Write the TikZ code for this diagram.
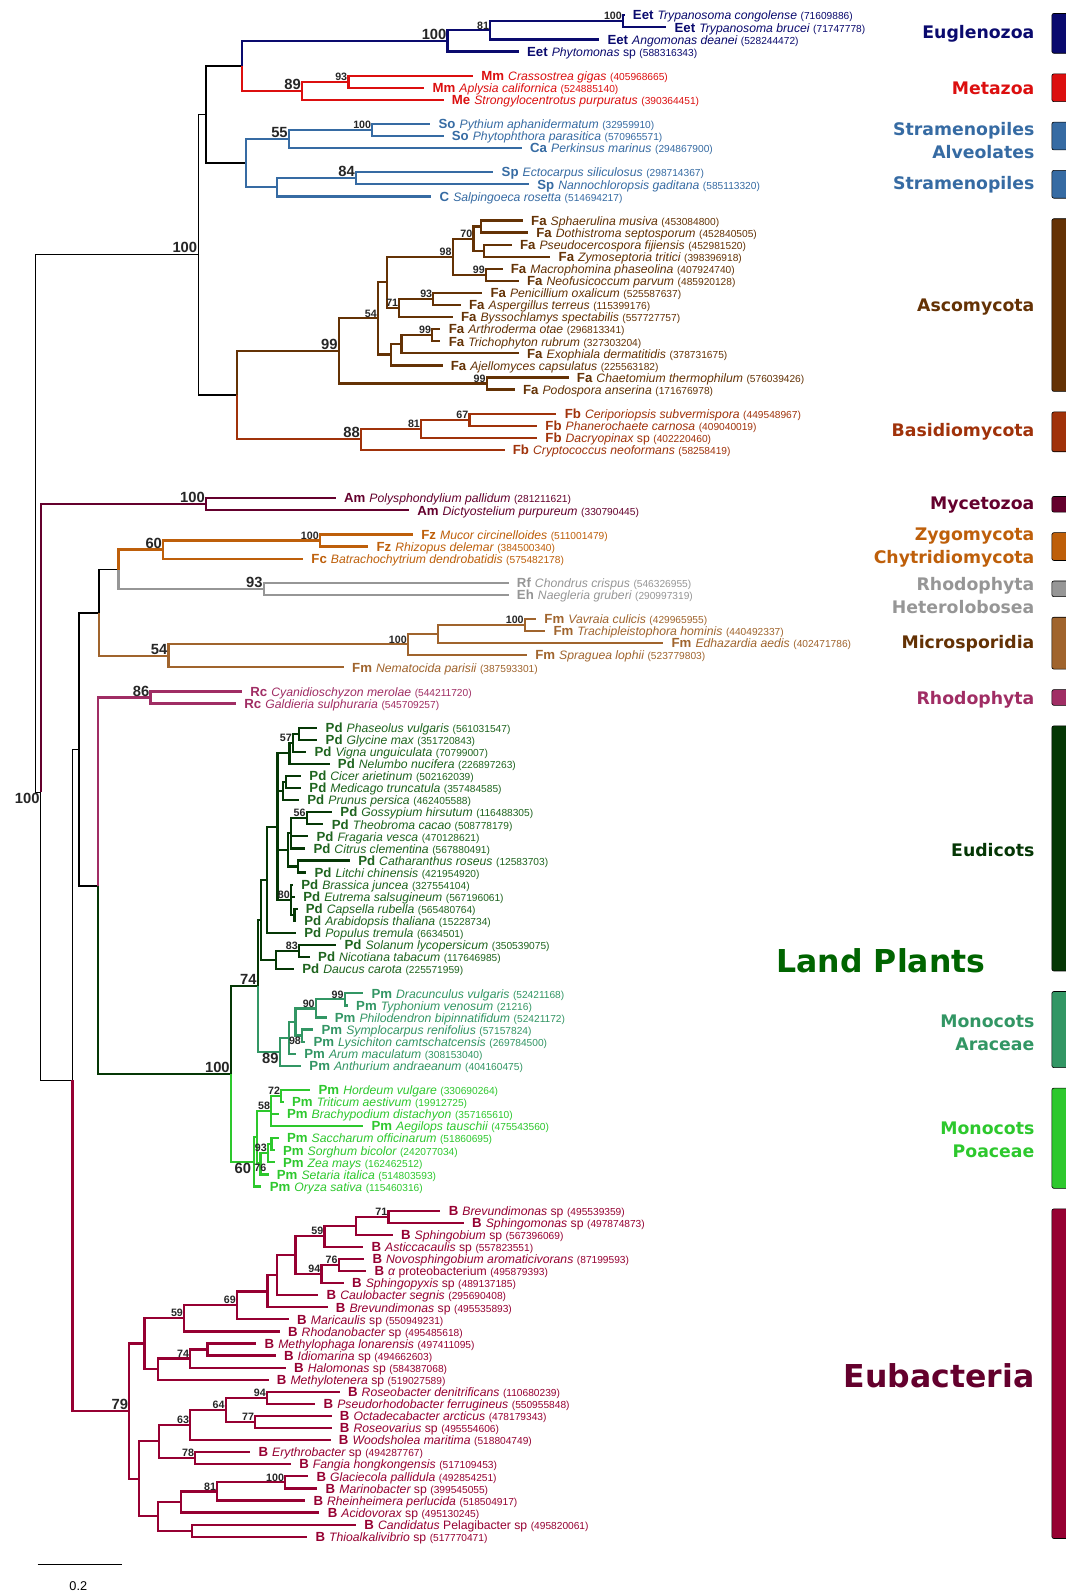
\documentclass[tikz,border=0pt]{standalone}
\usepackage{fontspec}
\setmainfont{Liberation Sans}
\newfontfamily\cladefont{DejaVu Sans}
\usetikzlibrary{positioning}

\definecolor{eug}{RGB}{10,10,110}
\definecolor{met}{RGB}{220,15,15}
\definecolor{stra}{RGB}{54,107,163}
\definecolor{asco}{RGB}{100,50,5}
\definecolor{basi}{RGB}{160,50,10}
\definecolor{myce}{RGB}{100,0,45}
\definecolor{zygo}{RGB}{190,95,10}
\definecolor{rhhe}{RGB}{150,150,150}
\definecolor{micr}{RGB}{160,100,45}
\definecolor{rhod}{RGB}{160,45,100}
\definecolor{eudi}{RGB}{5,55,5}
\definecolor{land}{RGB}{0,100,0}
\definecolor{arac}{RGB}{50,150,100}
\definecolor{poac}{RGB}{45,200,45}
\definecolor{euba}{RGB}{150,0,50}
\colorlet{eugT}{eug}
\colorlet{metT}{met}
\colorlet{straT}{stra}
\colorlet{ascoT}{asco}
\colorlet{basiT}{basi}
\colorlet{myceT}{myce}
\colorlet{zygoT}{zygo}
\colorlet{rhheT}{rhhe}
\colorlet{micrT}{micr}
\colorlet{rhodT}{rhod}
\definecolor{eudiT}{RGB}{30,100,30}
\colorlet{aracT}{arac}
\colorlet{poacT}{poac}
\colorlet{eubaT}{euba}

\newcommand{\codefont}{\bfseries\fontsize{13}{13}\selectfont}
\newcommand{\idfont}{\fontsize{10}{10}\selectfont}

\tikzset{
	br/.style={line width=2.2pt},
	bb/.style={line width=1.4pt, black},
	lab/.style={inner sep=0pt, text height=9.3pt, text depth=0pt, font=\fontsize{12}{12}\selectfont},
	bs/.style={anchor=south east, inner sep=1pt, text=black!85, font=\bfseries\fontsize{10.5}{11}\selectfont},
	bsb/.style={bs, anchor=north east},
	bl/.style={bs, font=\bfseries\fontsize{14.5}{15}\selectfont},
	blb/.style={bl, anchor=north east},
	clade/.style={anchor=east, align=right, inner sep=0pt, font=\cladefont\bfseries\fontsize{17}{22.5}\selectfont},
	bigclade/.style={inner sep=0pt, font=\cladefont\bfseries\fontsize{31}{34}\selectfont},
	bar/.style={draw=black, line width=0.6pt, rounded corners=2pt}
}

% tip, branch from parent, label
\newcommand{\leaf}[8]{%
	\coordinate (#1) at (#3,#4);
	\draw[br,#5] (#2) |- (#1);
	\node[lab, text=#5T, right=8pt of #1] (#1l) {{\codefont #6}\hspace{4pt}{\itshape #7}\hspace{3.5pt}{\idfont(#8)}};
}

\begin{document}
\begin{tikzpicture}[x=1pt, y=-11.87pt]
	\fill[white] (0,-1.264) rectangle (1047,130.83);
	\useasboundingbox (0,-1.264) rectangle (1047,130.83);

	% internal nodes
	\foreach \n/\x/\y in {R0/35/42.1, T/195/19.8, A1/202.5/8.2, NEM/238/4.2, NEug/440/2.1, N81e/482/1.25, N100e/612.5/0.5,
		N89m/297/6.25, N93m/342.5/5.5, NStr/241.5/12.25, N55/284/10.25, N100s/366/9.5, Ns1/272/14.25, N84/350/13.5,
		Dik/232.7/31.45, N99A/333/27.8, N54a/371.6/25.1, Na1/380.5/22.1, N98a/445/20, N70/465.5/18.5, NSD/473/17.5,
		NPZ/476/19.5, N99a/477.7/21.5, N71a/392.6/24.25, N93a/426/23.5, Na3/384.5/28.1, Na2/394.7/27.25, N99b/425/26.5,
		N99c/478.5/30.5, N88/355/35.1, N81b/414/34.25, N67/461.5/33.5}
		\coordinate (\n) at (\x,\y);
	\foreach \n/\x/\y in {R1/40/64.35, NMyc/202.5/40.5, H/71.3/88.2, G/77.5/60.8, F/97.5/49.5, ZR/116.5/45.9,
		N60z/160.4/44.25, N100z/314.5/43.5, N93r/259.4/47.5, N54m/165.7/53.05, N100m/401/52.1, NVTE/430.6/51.25,
		N100v/516/50.5, J/96/72.1, N86/148/56.5}
		\coordinate (\n) at (\x,\y);
	\foreach \n/\x/\y in {LP/227/87.7, N74/253.4/80.4, EU/256.5/74.9, EU1/262.7/71.6, EU2/272.8/67.2, FAB/284.6/61.1,
		N57/288/60.25, PG/294/59.5, CMP/278/64.25, CM/281/63.5, M1/283/69.1, P3/286/67.75, N56/301.5/66.5, CL/293/70.5,
		BR80/286/73.25, CA/289.5/74.5, SDC/271/78.25, S83/294/77.5,
		N89a/275/85.85, NA2/284/84.7, NA1/290.4/83.4, N90/310.5/82.25, N99p/339/81.5, N98/297/84.5,
		PR/249.4/95, X/252.7/92.9, N58/266.6/90.75, N72/276.5/89.5, N76/256/95.1, N93p/263.4/94.25, SS/267/93.5}
		\coordinate (\n) at (\x,\y);
	\foreach \n/\x/\y in {E79/127/115.6, Nb7/142/110, N59a/181/107.9, N69/233/106.8, Nb4/263/105.7, Nb3/272.5/104.3,
		Nb2/290.4/102.7, N59b/319/101.1, Nb1/350/100.25, N71/382/99.5, N94/316/104.25, N76b/333/103.5, Nb6/155.4/112.1,
		N74b/187/111.25, Nb5/204/110.5, Nb14/137/121.2, Nb10/156.5/118.1, N63/187/116.75, N64/222/115.5,
		N94b/262.5/114.5, N77/251/116.5, N78/192/119.5, Nb13/155.4/124.3, Nb11/178/123.1, N81c/213.6/122.25,
		N100b/280.4/121.5, Nb12/188.6/125.5}
		\coordinate (\n) at (\x,\y);

	% internal branches
	\foreach \p/\c in {R0/T, R0/R1, T/A1, T/Dik, A1/NEM, A1/NStr, R1/H, H/G, G/F, G/J, F/ZR}
		\draw[bb] (\p) |- (\c);
	\foreach \p/\c in {NEM/NEug, NEug/N81e, N81e/N100e} \draw[br,eug] (\p) |- (\c);
	\foreach \p/\c in {NEM/N89m, N89m/N93m} \draw[br,met] (\p) |- (\c);
	\foreach \p/\c in {NStr/N55, NStr/Ns1, N55/N100s, Ns1/N84} \draw[br,stra] (\p) |- (\c);
	\foreach \p/\c in {Dik/N99A, N99A/N54a, N99A/N99c, N54a/Na1, N54a/Na3, Na1/N98a, Na1/N71a, N98a/N70,
		N98a/N99a, N70/NSD, N70/NPZ, N71a/N93a, Na3/Na2, Na2/N99b} \draw[br,asco] (\p) |- (\c);
	\foreach \p/\c in {Dik/N88, N88/N81b, N81b/N67} \draw[br,basi] (\p) |- (\c);
	\draw[br,myce] (R1) |- (NMyc);
	\foreach \p/\c in {ZR/N60z, N60z/N100z} \draw[br,zygo] (\p) |- (\c);
	\draw[br,rhhe] (ZR) |- (N93r);
	\foreach \p/\c in {F/N54m, N54m/N100m, N100m/NVTE, NVTE/N100v} \draw[br,micr] (\p) |- (\c);
	\draw[br,rhod] (J) |- (N86);
	\foreach \p/\c in {J/LP, LP/N74, N74/EU, EU/EU1, EU/SDC, EU1/EU2, EU2/FAB, EU2/CMP, EU2/M1, EU2/BR80,
		FAB/N57, N57/PG, CMP/CM, M1/P3, M1/CL, P3/N56, BR80/CA, SDC/S83} \draw[br,eudi] (\p) |- (\c);
	\foreach \p/\c in {N74/N89a, N89a/NA2, NA2/NA1, NA1/N90, NA1/N98, N90/N99p} \draw[br,arac] (\p) |- (\c);
	\foreach \p/\c in {LP/PR, PR/X, X/N58, X/N76, N58/N72, N76/N93p, N93p/SS} \draw[br,poac] (\p) |- (\c);
	\foreach \p/\c in {H/E79, E79/Nb7, E79/Nb14, Nb7/N59a, Nb7/Nb6, N59a/N69, N69/Nb4, Nb4/Nb3, Nb3/Nb2,
		Nb2/N59b, Nb2/N94, N59b/Nb1, Nb1/N71, N94/N76b, Nb6/N74b, N74b/Nb5, Nb14/Nb10, Nb14/Nb13, Nb10/N63,
		Nb10/N78, N63/N64, N64/N94b, N64/N77, Nb13/Nb11, Nb13/Nb12, Nb11/N81c, N81c/N100b} \draw[br,euba] (\p) |- (\c);

	% leaves
	\leaf{tcon}{N100e}{614}{0}{eug}{Eet}{Trypanosoma congolense}{71609886}
	\leaf{tbru}{N100e}{655}{1}{eug}{Eet}{Trypanosoma brucei}{71747778}
	\leaf{adea}{N81e}{589}{2}{eug}{Eet}{Angomonas deanei}{528244472}
	\leaf{phyt}{NEug}{510}{3}{eug}{Eet}{Phytomonas \upshape sp}{588316343}
	\leaf{cgig}{N93m}{465}{5}{met}{Mm}{Crassostrea gigas}{405968665}
	\leaf{acal}{N93m}{417}{6}{met}{Mm}{Aplysia californica}{524885140}
	\leaf{spur}{N89m}{436}{7}{met}{Me}{Strongylocentrotus purpuratus}{390364451}
	\leaf{paph}{N100s}{423}{9}{stra}{So}{Pythium aphanidermatum}{32959910}
	\leaf{ppar}{N100s}{436}{10}{stra}{So}{Phytophthora parasitica}{570965571}
	\leaf{pmar}{N55}{513}{11}{stra}{Ca}{Perkinsus marinus}{294867900}
	\leaf{esil}{N84}{485}{13}{stra}{Sp}{Ectocarpus siliculosus}{298714367}
	\leaf{ngad}{N84}{520}{14}{stra}{Sp}{Nannochloropsis gaditana}{585113320}
	\leaf{sros}{Ns1}{424}{15}{stra}{C}{Salpingoeca rosetta}{514694217}
	\leaf{smus}{NSD}{514}{17}{asco}{Fa}{Sphaerulina musiva}{453084800}
	\leaf{dsep}{NSD}{519}{18}{asco}{Fa}{Dothistroma septosporum}{452840505}
	\leaf{pfij}{NPZ}{503}{19}{asco}{Fa}{Pseudocercospora fijiensis}{452981520}
	\leaf{ztri}{NPZ}{541}{20}{asco}{Fa}{Zymoseptoria tritici}{398396918}
	\leaf{mpha}{N99a}{494}{21}{asco}{Fa}{Macrophomina phaseolina}{407924740}
	\leaf{npar}{N99a}{510}{22}{asco}{Fa}{Neofusicoccum parvum}{485920128}
	\leaf{poxa}{N93a}{474}{23}{asco}{Fa}{Penicillium oxalicum}{525587637}
	\leaf{ater}{N93a}{453}{24}{asco}{Fa}{Aspergillus terreus}{115399176}
	\leaf{bspe}{N71a}{445}{25}{asco}{Fa}{Byssochlamys spectabilis}{557727757}
	\leaf{aota}{N99b}{433}{26}{asco}{Fa}{Arthroderma otae}{296813341}
	\leaf{trub}{N99b}{433}{27}{asco}{Fa}{Trichophyton rubrum}{327303204}
	\leaf{ederm}{Na2}{510}{28}{asco}{Fa}{Exophiala dermatitidis}{378731675}
	\leaf{acap}{Na3}{435}{29}{asco}{Fa}{Ajellomyces capsulatus}{225563182}
	\leaf{cthe}{N99c}{559}{30}{asco}{Fa}{Chaetomium thermophilum}{576039426}
	\leaf{pans}{N99c}{506}{31}{asco}{Fa}{Podospora anserina}{171676978}
	\leaf{csub}{N67}{547}{33}{basi}{Fb}{Ceriporiopsis subvermispora}{449548967}
	\leaf{pcar}{N67}{528}{34}{basi}{Fb}{Phanerochaete carnosa}{409040019}
	\leaf{dacr}{N81b}{528}{35}{basi}{Fb}{Dacryopinax \upshape sp}{402220460}
	\leaf{cneo}{N88}{496}{36}{basi}{Fb}{Cryptococcus neoformans}{58258419}
	\leaf{ppal}{NMyc}{330}{40}{myce}{Am}{Polysphondylium pallidum}{281211621}
	\leaf{dpur}{NMyc}{402}{41}{myce}{Am}{Dictyostelium purpureum}{330790445}
	\leaf{mcir}{N100z}{406}{43}{zygo}{Fz}{Mucor circinelloides}{511001479}
	\leaf{rdel}{N100z}{362}{44}{zygo}{Fz}{Rhizopus delemar}{384500340}
	\leaf{bden}{N60z}{298}{45}{zygo}{Fc}{Batrachochytrium dendrobatidis}{575482178}
	\leaf{ccri}{N93r}{500}{47}{rhhe}{Rf}{Chondrus crispus}{546326955}
	\leaf{ngru}{N93r}{500}{48}{rhhe}{Eh}{Naegleria gruberi}{290997319}
	\leaf{vcul}{N100v}{527}{50}{micr}{Fm}{Vavraia culicis}{429965955}
	\leaf{thom}{N100v}{536}{51}{micr}{Fm}{Trachipleistophora hominis}{440492337}
	\leaf{eaed}{NVTE}{652}{52}{micr}{Fm}{Edhazardia aedis}{402471786}
	\leaf{slop}{N100m}{518}{53}{micr}{Fm}{Spraguea lophii}{523779803}
	\leaf{npari}{N54m}{338}{54}{micr}{Fm}{Nematocida parisii}{387593301}
	\leaf{cmer}{N86}{238}{56}{rhod}{Rc}{Cyanidioschyzon merolae}{544211720}
	\leaf{gsul}{N86}{232}{57}{rhod}{Rc}{Galdieria sulphuraria}{545709257}
	\leaf{pvul}{PG}{312}{59}{eudi}{Pd}{Phaseolus vulgaris}{561031547}
	\leaf{gmax}{PG}{312}{60}{eudi}{Pd}{Glycine max}{351720843}
	\leaf{vung}{N57}{301}{61}{eudi}{Pd}{Vigna unguiculata}{70799007}
	\leaf{nnuc}{FAB}{324}{62}{eudi}{Pd}{Nelumbo nucifera}{226897263}
	\leaf{cari}{CM}{296}{63}{eudi}{Pd}{Cicer arietinum}{502162039}
	\leaf{mtru}{CM}{296}{64}{eudi}{Pd}{Medicago truncatula}{357484585}
	\leaf{pper}{CMP}{294}{65}{eudi}{Pd}{Prunus persica}{462405588}
	\leaf{ghir}{N56}{326.5}{66}{eudi}{Pd}{Gossypium hirsutum}{116488305}
	\leaf{tcac}{N56}{318}{67}{eudi}{Pd}{Theobroma cacao}{508778179}
	\leaf{fves}{P3}{303}{68}{eudi}{Pd}{Fragaria vesca}{470128621}
	\leaf{ccle}{P3}{300}{69}{eudi}{Pd}{Citrus clementina}{567880491}
	\leaf{cros}{CL}{344}{70}{eudi}{Pd}{Catharanthus roseus}{12583703}
	\leaf{lchi}{CL}{301}{71}{eudi}{Pd}{Litchi chinensis}{421954920}
	\leaf{bjun}{BR80}{288}{72}{eudi}{Pd}{Brassica juncea}{327554104}
	\leaf{esal}{BR80}{290}{73}{eudi}{Pd}{Eutrema salsugineum}{567196061}
	\leaf{crub}{CA}{292.5}{74}{eudi}{Pd}{Capsella rubella}{565480764}
	\leaf{atha}{CA}{291}{75}{eudi}{Pd}{Arabidopsis thaliana}{15228734}
	\leaf{ptre}{EU1}{291}{76}{eudi}{Pd}{Populus tremula}{6634501}
	\leaf{slyc}{S83}{330.5}{77}{eudi}{Pd}{Solanum lycopersicum}{350539075}
	\leaf{ntab}{S83}{304.6}{78}{eudi}{Pd}{Nicotiana tabacum}{117646985}
	\leaf{dcar}{SDC}{289}{79}{eudi}{Pd}{Daucus carota}{225571959}
	\leaf{dvul}{N99p}{357}{81}{arac}{Pm}{Dracunculus vulgaris}{52421168}
	\leaf{tven}{N99p}{342}{82}{arac}{Pm}{Typhonium venosum}{21216}
	\leaf{pbip}{N90}{321}{83}{arac}{Pm}{Philodendron bipinnatifidum}{52421172}
	\leaf{sren}{N98}{308}{84}{arac}{Pm}{Symplocarpus renifolius}{57157824}
	\leaf{lcam}{N98}{300}{85}{arac}{Pm}{Lysichiton camtschatcensis}{269784500}
	\leaf{amac}{NA2}{291}{86}{arac}{Pm}{Arum maculatum}{308153040}
	\leaf{aand}{N89a}{296}{87}{arac}{Pm}{Anthurium andraeanum}{404160475}
	\leaf{hvul}{N72}{305}{89}{poac}{Pm}{Hordeum vulgare}{330690264}
	\leaf{taes}{N72}{279}{90}{poac}{Pm}{Triticum aestivum}{19912725}
	\leaf{bdis}{N58}{274}{91}{poac}{Pm}{Brachypodium distachyon}{357165610}
	\leaf{atau}{N58}{357}{92}{poac}{Pm}{Aegilops tauschii}{475543560}
	\leaf{soff}{SS}{274}{93}{poac}{Pm}{Saccharum officinarum}{51860695}
	\leaf{sbic}{SS}{270}{94}{poac}{Pm}{Sorghum bicolor}{242077034}
	\leaf{zmay}{N93p}{270}{95}{poac}{Pm}{Zea mays}{162462512}
	\leaf{sita}{N76}{264}{96}{poac}{Pm}{Setaria italica}{514803593}
	\leaf{osat}{PR}{257}{97}{poac}{Pm}{Oryza sativa}{115460316}
	\leaf{bre1}{N71}{433}{99}{euba}{B}{Brevundimonas \upshape sp}{495539359}
	\leaf{sphm}{N71}{456}{100}{euba}{B}{Sphingomonas \upshape sp}{497874873}
	\leaf{sphb}{Nb1}{386}{101}{euba}{B}{Sphingobium \upshape sp}{567396069}
	\leaf{asti}{N59b}{357}{102}{euba}{B}{Asticcacaulis \upshape sp}{557823551}
	\leaf{naro}{N76b}{358}{103}{euba}{B}{Novosphingobium aromaticivorans}{87199593}
	\leaf{apro}{N76b}{360}{104}{euba}{B}{α \upshape proteobacterium}{495879393}
	\leaf{sphx}{N94}{338}{105}{euba}{B}{Sphingopyxis \upshape sp}{489137185}
	\leaf{cseg}{Nb3}{313}{106}{euba}{B}{Caulobacter segnis}{295690408}
	\leaf{bre2}{Nb4}{322}{107}{euba}{B}{Brevundimonas \upshape sp}{495535893}
	\leaf{mari}{N69}{284}{108}{euba}{B}{Maricaulis \upshape sp}{550949231}
	\leaf{rhdb}{N59a}{275}{109}{euba}{B}{Rhodanobacter \upshape sp}{495485618}
	\leaf{mlon}{Nb5}{252}{110}{euba}{B}{Methylophaga lonarensis}{497411095}
	\leaf{idio}{Nb5}{271}{111}{euba}{B}{Idiomarina \upshape sp}{494662603}
	\leaf{halo}{N74b}{281}{112}{euba}{B}{Halomonas \upshape sp}{584387068}
	\leaf{mten}{Nb6}{264}{113}{euba}{B}{Methylotenera \upshape sp}{519027589}
	\leaf{rden}{N94b}{334}{114}{euba}{B}{Roseobacter denitrificans}{110680239}
	\leaf{pfer}{N94b}{310}{115}{euba}{B}{Pseudorhodobacter ferrugineus}{550955848}
	\leaf{oarc}{N77}{326}{116}{euba}{B}{Octadecabacter arcticus}{478179343}
	\leaf{rvar}{N77}{326}{117}{euba}{B}{Roseovarius \upshape sp}{495554606}
	\leaf{wmar}{N63}{325}{118}{euba}{B}{Woodsholea maritima}{518804749}
	\leaf{eryt}{N78}{246}{119}{euba}{B}{Erythrobacter \upshape sp}{494287767}
	\leaf{fhon}{N78}{286}{120}{euba}{B}{Fangia hongkongensis}{517109453}
	\leaf{gpal}{N100b}{303}{121}{euba}{B}{Glaciecola pallidula}{492854251}
	\leaf{mrnb}{N100b}{312}{122}{euba}{B}{Marinobacter \upshape sp}{399545055}
	\leaf{rper}{N81c}{300}{123}{euba}{B}{Rheinheimera perlucida}{518504917}
	\leaf{acid}{Nb11}{314}{124}{euba}{B}{Acidovorax \upshape sp}{495130245}
	\leaf{cpel}{Nb12}{350}{125}{euba}{B}{Candidatus \upshape Pelagibacter sp}{495820061}
	\leaf{thio}{Nb12}{302}{126}{euba}{B}{Thioalkalivibrio \upshape sp}{517770471}

	% support values
	\foreach \n/\v in {N100e/100, N81e/81, N93m/93, N100s/100, N70/70, N98a/98, N99a/99, N93a/93, N71a/71,
		N54a/54, N99b/99, N99c/99, N67/67, N81b/81, N100z/100, N100m/100, N100v/100, N57/57, N56/56, BR80/80,
		S83/83, N99p/99, N90/90, N72/72, N58/58, N93p/93, N71/71, N59b/59, N76b/76, N94/94, N69/69, N59a/59,
		N74b/74, N94b/94, N64/64, N77/77, N63/63, N78/78, N100b/100, N81c/81}
		\node[bs] (b\n) at (\n) {\v};
	\node[bsb] (bN98) at (N98) {98};
	\node[bsb, anchor=north west, inner sep=0.5pt] (bN76) at (PR |- N76) {76};
	\foreach \n/\v in {NEug/100, N89m/89, N55/55, N84/84, T/100, N99A/99, N88/88, NMyc/100, N60z/60, N93r/93,
		N54m/54, N86/86, N74/74, LP/100, E79/79}
		\node[bl] (b\n) at (\n) {\v};
	\foreach \n/\v in {R1/100, N89a/89} \node[blb] (b\n) at (\n) {\v};
	\node[blb, xshift=-1.5pt] (bPR) at (PR) {60};

	% clade bars
	\foreach \c/\a/\b in {eug/-0.15/3.15, met/4.85/7.15, stra/8.85/11.15, stra/12.85/15.15, asco/16.85/31.15,
		basi/32.85/36.15, myce/39.85/41.15, zygo/42.85/45.15, rhhe/46.85/48.15, micr/49.85/54.15, rhod/55.85/57.15,
		eudi/58.85/79.15, arac/80.85/87.15, poac/88.85/97.15, euba/98.85/126.15}
		\draw[bar, fill=\c] (1034,\a) rectangle (1064,\b);

	% clade names
	\node[clade, text=eug] (c-eug) at (1017,1.52) {Euglenozoa};
	\node[clade, text=met] (c-met) at (1017,6.07) {Metazoa};
	\node[clade, text=stra] (c-stal) at (1017,10.4) {Stramenopiles\\Alveolates};
	\node[clade, text=stra] (c-str) at (1017,14.07) {Stramenopiles};
	\node[clade, text=asco] (c-asco) at (1017,24.2) {Ascomycota};
	\node[clade, text=basi] (c-basi) at (1017,34.46) {Basidiomycota};
	\node[clade, text=myce] (c-myce) at (1017,40.6) {Mycetozoa};
	\node[clade, text=zygo] (c-zygo) at (1017,44.1) {Zygomycota\\Chytridiomycota};
	\node[clade, text=rhhe] (c-rhhe) at (1017,48.06) {Rhodophyta\\Heterolobosea};
	\node[clade, text=asco] (c-micr) at (1017,52.06) {Microsporidia};
	\node[clade, text=rhod] (c-rhod) at (1017,56.7) {Rhodophyta};
	\node[clade, text=eudi] (c-eudi) at (1017,69.17) {Eudicots};
	\node[bigclade, text=land] (c-land) at (866,78.3) {Land Plants};
	\node[clade, text=arac] (c-arac) at (1017,84.25) {Monocots\\Araceae};
	\node[clade, text=poac] (c-poac) at (1017,93.1) {Monocots\\Poaceae};
	\node[bigclade, text=myce, anchor=east] (c-euba) at (1017,112.7) {Eubacteria};

	% scale
	\coordinate (sbl) at (37,128.3);
	\coordinate (sbr) at (120,128.3);
	\draw[line width=1.4pt] (sbl) -- (sbr);
	\node[font=\fontsize{12.5}{13}\selectfont] (sbt) at (77,130.1) {0.2};
\end{tikzpicture}
\end{document}
